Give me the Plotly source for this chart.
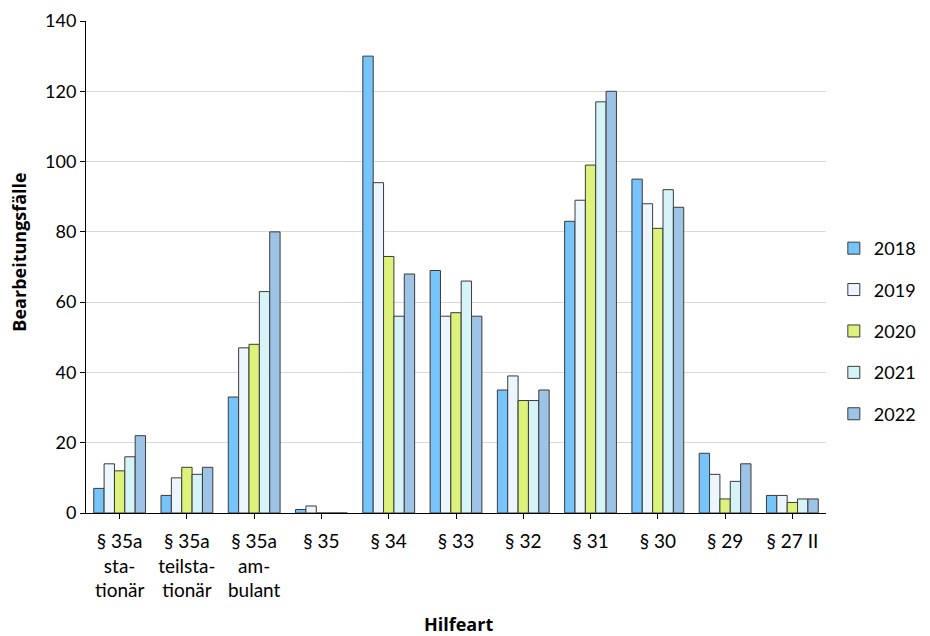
import plotly.graph_objects as go

categories = [
    "§ 35a<br>sta-<br>tionär",
    "§ 35a<br>teilsta-<br>tionär",
    "§ 35a<br>am-<br>bulant",
    "§ 35",
    "§ 34",
    "§ 33",
    "§ 32",
    "§ 31",
    "§ 30",
    "§ 29",
    "§ 27 II",
]
years = ["2018", "2019", "2020", "2021", "2022"]
v2018 = [7, 5, 33, 1, 130, 69, 35, 83, 95, 17, 5]
v2019 = [14, 10, 47, 2, 94, 56, 39, 89, 88, 11, 5]
v2020 = [12, 13, 48, 0, 73, 57, 32, 99, 81, 4, 3]
v2021 = [16, 11, 63, 0, 56, 66, 32, 117, 92, 9, 4]
v2022 = [22, 13, 80, 0, 68, 56, 35, 120, 87, 14, 4]
colors = ["#77C4FA", "#EDF6FE", "#DDF27A", "#D6F3F7", "#9DC3E6"]

font = "Lato, 'Open Sans', sans-serif"
title_font = dict(family="'Open Sans', sans-serif", size=18, color="#000000")

fig = go.Figure()
for year, vals, col in zip(years, [v2018, v2019, v2020, v2021, v2022], colors):
    fig.add_trace(go.Bar(
        x=categories, y=vals, name=year, legendgroup=year,
        marker=dict(color=col, line=dict(color="#3a3a3a", width=1)),
    ))

# the page body shifts the figure by 8px, margins make up for it
fig.update_layout(
    width=930, height=636,
    margin=dict(l=78, r=112, t=13, b=131),
    paper_bgcolor="white", plot_bgcolor="white",
    barmode="group", bargap=0.23, bargroupgap=0,
    font=dict(family=font, size=18, color="#000000"),
    legend=dict(xref="container", x=0.888, y=0.37, xanchor="left", yanchor="middle",
                traceorder="grouped", tracegroupgap=15,
                font=dict(size=18)),
    showlegend=True,
)

# axis titles as annotations so they sit where the original puts them
fig.add_annotation(text="<b>Hilfeart</b>", xref="paper", yref="paper",
                   x=0.503, y=-0.225, xanchor="center", yanchor="middle",
                   showarrow=False, font=title_font)
fig.add_annotation(text="<b>Bearbeitungsfälle</b>", xref="paper", yref="paper",
                   x=-0.09, y=0.53, xanchor="center", yanchor="middle",
                   textangle=-90, showarrow=False, font=title_font)

fig.update_xaxes(
    automargin=False,
    showline=True, linecolor="#000000", linewidth=1,
    ticks="outside", ticklen=5, tickcolor="#000000",
    tickfont=dict(size=19), ticklabelstandoff=6,
)
fig.update_yaxes(
    automargin=False,
    range=[0, 140], dtick=20,
    showline=True, linecolor="#000000", linewidth=1,
    ticks="outside", ticklen=5, tickcolor="#000000",
    showgrid=True, gridcolor="#d9d9d9", gridwidth=1,
)
fig.write_html("out.html")
